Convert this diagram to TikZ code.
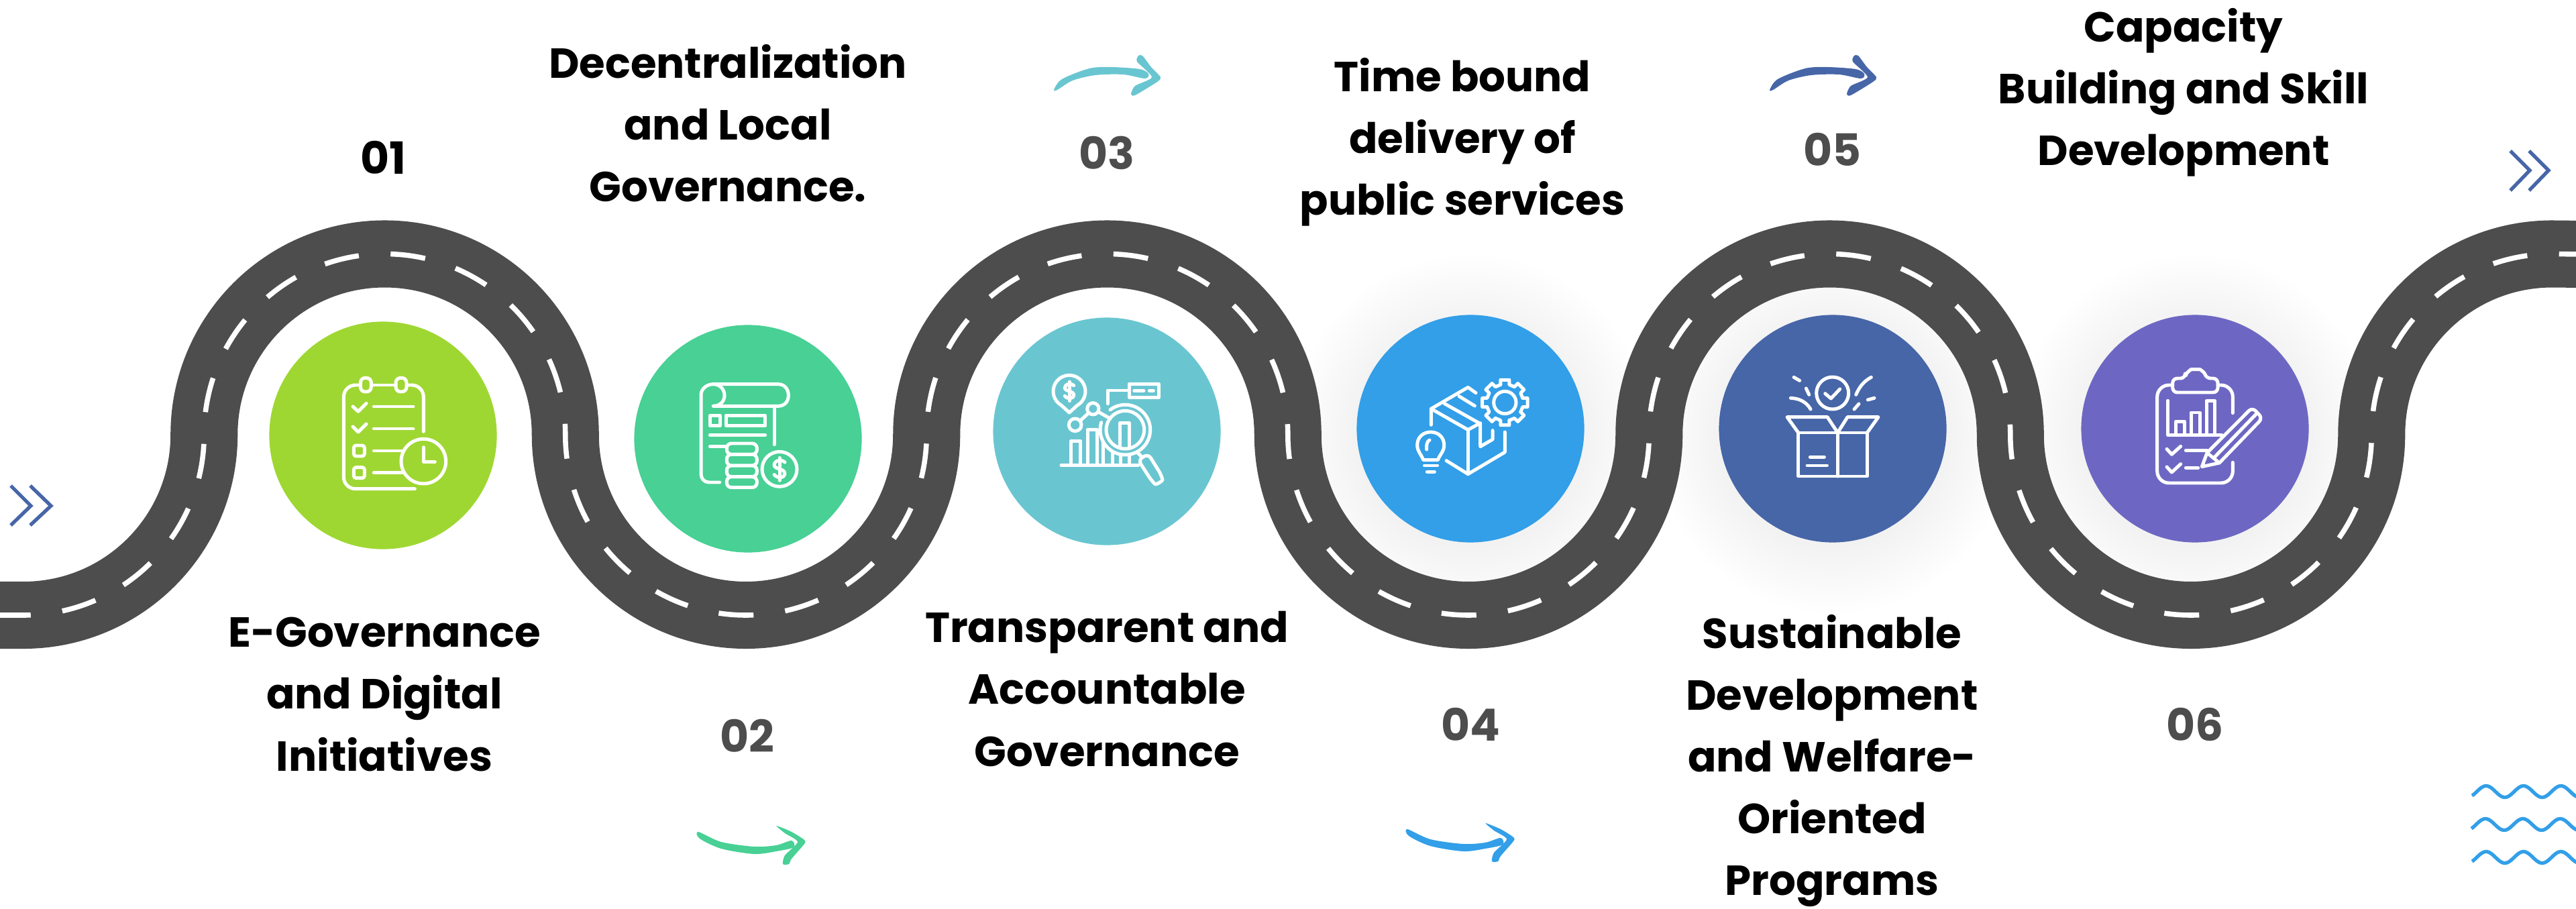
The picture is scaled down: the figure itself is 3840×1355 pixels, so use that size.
\documentclass[tikz,border=0pt]{standalone}
\usepackage{fontspec}
\usetikzlibrary{calc}
\setmainfont{Poppins}
\definecolor{roadc}{HTML}{4D4D4D}
\definecolor{cA}{HTML}{9FD732}
\definecolor{cB}{HTML}{48D095}
\definecolor{cC}{HTML}{69C6D1}
\definecolor{cD}{HTML}{329FE8}
\definecolor{cE}{HTML}{4766A8}
\definecolor{cF}{HTML}{6D67C3}
\tikzset{
  disc/.style={circle,minimum size=3.39cm,inner sep=0pt,outer sep=0pt},
  lab/.style={font=\fontsize{17.8}{26.2}\selectfont\bfseries,align=center,text=black,inner sep=0pt},
  num/.style={font=\fontsize{18.8}{22}\selectfont\bfseries,inner sep=0pt},
  ico/.style={draw=white,line width=1.42pt,line cap=round,line join=round},
  chev/.style={draw=cE,line width=1.5pt},
  wavy/.style={draw=cD,line width=1.5pt,line join=round},
}
\newcommand{\softshadow}[2]{\foreach \r in {170,178,...,266}{\fill[black,fill opacity=.0036] (#1,#2) circle (\r);}}
\newcommand{\roadline}{(-20,917) -- (35,917) arc[start angle=90,end angle=0,radius=269.25]
  arc[start angle=180,end angle=360,radius=269.25]
  arc[start angle=180,end angle=0,radius=269.25]
  arc[start angle=180,end angle=360,radius=269.25]
  arc[start angle=180,end angle=0,radius=269.25]
  arc[start angle=180,end angle=360,radius=269.25]
  arc[start angle=180,end angle=0,radius=269.25]
  arc[start angle=180,end angle=270,radius=269.25] -- (3850,379)}
\newcommand{\lowarrow}[3]{\begin{scope}[shift={(#1,#2)}]
  \fill[#3] plot[smooth cycle,tension=.5] coordinates {(1041,1240) (1075,1255) (1124,1262) (1157,1260) (1180,1253) (1183,1263) (1157,1269) (1124,1273) (1075,1265) (1043,1250)};
  \fill[#3] plot[smooth cycle,tension=.4] coordinates {(1157.5,1231) (1180,1240) (1199,1252) (1199,1258) (1180,1280) (1176,1288) (1167,1288) (1170,1275) (1189,1255) (1170,1242)};
\end{scope}}
\newcommand{\toparrow}[3]{\begin{scope}[shift={(#1,#2)}]
  \fill[#3] plot[smooth cycle,tension=.5] coordinates {(1571,134) (1583,118) (1624,102) (1657,100) (1699,103) (1712,110) (1707,117) (1674,111) (1633,112) (1599,120) (1576,134)};
  \fill[#3] plot[smooth cycle,tension=.4] coordinates {(1697,83) (1703,83) (1716,100) (1730,115) (1725,122) (1692,142) (1686,140) (1692,128) (1717,115) (1695,92)};
\end{scope}}
\newcommand{\dollar}[3]{\begin{scope}[shift={(#1,#2)},scale=#3]
  \draw[ico] (24,-30) .. controls (8,-46) and (-24,-38) .. (-24,-18) .. controls (-24,4) and (24,-4) .. (24,22) .. controls (24,40) and (-8,46) .. (-24,26);
  \draw[ico] (0,-50) -- (0,52);
\end{scope}}
\begin{document}
\begin{tikzpicture}[x=0.01cm,y=-0.01cm]
\path[use as bounding box,clip] (0,0) rectangle (3840,1355);
\softshadow{2192}{647}\softshadow{2732}{647}\softshadow{3272}{647}
% road
\draw[roadc,line width=28.45pt] \roadline;
\draw[white,line width=2.15pt,dash pattern=on 14.8pt off 13.51pt,dash phase=24.4pt] \roadline;
% discs
\node[disc,fill=cA] (c1) at (571,649) {};
\node[disc,fill=cB] (c2) at (1115,654) {};
\node[disc,fill=cC] (c3) at (1650,643) {};
\node[disc,fill=cD] (c4) at (2192,639) {};
\node[disc,fill=cE] (c5) at (2732,639) {};
\node[disc,fill=cF] (c6) at (3272,639) {};
% numbers
\node[num,text=black] (n1) at (571,235) {01};
\node[num,text=roadc] (n2) at (1114,1097) {02};
\node[num,text=roadc] (n3) at (1650,228) {03};
\node[num,text=roadc] (n4) at (2192,1080) {04};
\node[num,text=roadc] (n5) at (2731,223) {05};
\node[num,text=roadc] (n6) at (3272,1080) {06};
% labels
\node[lab] (t1) at (573,1035) {E-Governance\\and Digital\\Initiatives};
\node[lab] (t2) at (1085,184) {Decentralization\\and Local\\Governance.};
\node[lab] (t3) at (1650,1027) {Transparent and\\Accountable\\Governance};
\node[lab] (t4) at (2180,212) {Time bound\\delivery of\\public services};
\node[lab] (t5) at (2731,1134) {Sustainable\\Development\\and Welfare-\\Oriented\\Programs};
\node[lab] (t6) at (3255,138) {Capacity\\Building and Skill\\Development};
% brush arrows
\lowarrow{0}{0}{cB}
\lowarrow{1057}{-4}{cD}
\toparrow{0}{0}{cC}
\toparrow{1067}{0}{cE}
% chevrons
\draw[chev] (16,724) -- (46,754) -- (16,783);
\draw[chev] (45,724) -- (76,754) -- (45,783);
\draw[chev] (3742,225) -- (3771,254) -- (3742,284);
\draw[chev] (3770,225) -- (3799,254) -- (3770,284);
% waves
\foreach \yy/\xs in {1180/0,1229/-1,1278/0}{
  \draw[wavy] plot[domain=-21:139,samples=120,smooth] ({3706+\x+\xs},{\yy-8.5*cos(\x*6.463)});
}
% icon 1
\begin{scope}[shift={(450,500)},scale=1/3]
 \draw[ico,rounded corners=5pt] (505,686) -- (187,686) -- (187,222) -- (262,222);
 \draw[ico] (310,222) -- (420,222);
 \draw[ico,rounded corners=5pt] (468,222) -- (544,222) -- (544,430);
 \draw[ico,rounded corners=2pt] (262,190) rectangle (310,252);
 \draw[ico,rounded corners=2pt] (420,190) rectangle (468,252);
 \draw[ico] (228,318) -- (252,340) -- (288,304);
 \draw[ico] (228,408) -- (252,432) -- (288,396);
 \draw[ico] (322,318) -- (498,318);
 \draw[ico] (322,417) -- (498,417);
 \draw[ico,rounded corners=1pt] (232,492) rectangle (280,540);
 \draw[ico,rounded corners=1pt] (232,590) rectangle (280,638);
 \draw[ico] (322,516) -- (455,516);
 \draw[ico] (322,614) -- (455,614);
 \draw[ico] (544,563) circle (100);
 \draw[ico] (544,500) -- (544,565) -- (595,565);
\end{scope}
% icon 2
\begin{scope}[shift={(1000,500)},scale=1/3]
 \draw[ico] (218,657) -- (170,657) .. controls (150,657) and (135,640) .. (135,620) -- (135,265) .. controls (135,240) and (160,218) .. (190,218) -- (480,218) .. controls (508,218) and (526,240) .. (526,268) .. controls (526,296) and (508,316) .. (480,316) -- (190,316);
 \draw[ico] (190,218) .. controls (218,218) and (240,240) .. (240,268) .. controls (240,296) and (218,316) .. (190,316);
 \draw[ico] (462,316) -- (462,488);
 \draw[ico] (175,358) rectangle (220,404);
 \draw[ico] (247,358) rectangle (422,404);
 \draw[ico] (175,446) -- (422,446);
 \draw[ico] (175,497) -- (250,497);
 \draw[ico,rounded corners=2pt] (250,483) rectangle (385,532);
 \draw[ico,rounded corners=2pt] (250,532) rectangle (385,582);
 \draw[ico,rounded corners=2pt] (250,582) rectangle (385,632);
 \draw[ico,rounded corners=2pt] (250,632) rectangle (385,680);
 \draw[ico] (486,598) circle (78);
\end{scope}
\dollar{1162}{699}{.33}
% icon 3
\begin{scope}[shift={(1520,520)},scale=1/3]
 \draw[ico] (186,520) -- (530,520);
 \draw[ico] (230,520) -- (230,412) -- (272,412) -- (272,520);
 \draw[ico] (303,520) -- (303,362) -- (345,362) -- (345,520);
 \draw[ico] (373,420) -- (373,520);
 \draw[ico] (415,462) -- (415,520);
 \draw[ico] (450,472) -- (450,520);
 \draw[ico] (490,472) -- (490,520);
 \draw[ico] (447,435) -- (447,332) -- (490,332) -- (490,435);
 \draw[ico] (472,362) circle (85);
 \draw[ico] ($(472,362)+(233:112)$) arc[start angle=233,end angle=557,radius=112];
 \draw[ico,rounded corners=2pt] (530,497) -- (575,470) -- (634,565) .. controls (640,590) and (610,610) .. (590,590) -- cycle;
 \draw[ico] (528,465) -- (545,482);
 \draw[ico] (248,340) circle (28);
 \draw[ico] (328,268) circle (26);
 \draw[ico] (270,322) -- (305,290);
 \draw[ico] (352,282) -- (405,312);
 \draw[ico] ($(222,190)+(120:72)$) arc[start angle=120,end angle=420,radius=72] -- (222,285) -- cycle;
 \draw[ico] (490,157) rectangle (622,218);
 \draw[ico] (512,187) -- (555,187);
 \draw[ico] (580,187) -- (598,187);
 \draw[ico] (393,245) -- (393,186) -- (490,186);
\end{scope}
\dollar{1594}{583}{.28}
% icon 4
\begin{scope}[shift={(2050,520)},scale=1/3]
 \draw[ico] (250,340) -- (250,268) -- (415,172) -- (450,197);
 \draw[ico] (250,268) -- (415,362) -- (470,332);
 \draw[ico] (310,245) -- (470,335) -- (470,437) -- (525,405) -- (525,365);
 \draw[ico] (375,212) -- (445,255);
 \draw[ico] (415,362) -- (415,560);
 \draw[ico] (318,500) -- (415,560) -- (580,462) -- (580,372);
 \draw[ico] (580,240) circle (50);
 \foreach \a in {0,45,...,315}{
  \draw[ico] ($(580,240)+(\a-14:82)$) -- ($(580,240)+(\a-11:103)$) -- ($(580,240)+(\a+11:103)$) -- ($(580,240)+(\a+14:82)$) -- ($(580,240)+(\a+31:82)$);
 }
 \draw[ico] (215,497) .. controls (205,470) and (188,460) .. (188,430) .. controls (188,395) and (215,372) .. (248,372) .. controls (281,372) and (308,395) .. (308,430) .. controls (308,460) and (290,470) .. (280,497) -- cycle;
 \draw[ico] (220,522) -- (278,522);
 \draw[ico] (232,550) -- (265,550);
 \draw[ico] (230,450) .. controls (228,430) and (232,412) .. (243,408);
\end{scope}
% icon 5
\begin{scope}[shift={(2590,520)},scale=1/3]
 \draw[ico] (425,198) circle (72);
 \draw[ico] (392,200) -- (418,222) -- (458,180);
 \draw[ico] (252,127) -- (278,142);
 \draw[ico] (307,177) -- (320,205);
 \draw[ico] (238,220) .. controls (280,222) and (310,240) .. (327,270);
 \draw[ico] (530,205) .. controls (545,170) and (565,145) .. (598,127);
 \draw[ico] (583,228) -- (612,220);
 \draw[ico] (522,270) -- (543,246);
 \draw[ico] (272,375) rectangle (580,570);
 \draw[ico] (448,375) -- (448,570);
 \draw[ico] (325,484) -- (388,484);
 \draw[ico] (312,522) -- (400,522);
 \draw[ico] (272,375) -- (222,305) -- (402,305) -- (448,375) -- (492,305) -- (630,305) -- (580,375);
\end{scope}
% icon 6
\begin{scope}[shift={(3120,520)},scale=1/3]
 \draw[ico,rounded corners=5pt] (625,287) -- (625,162) -- (558,162);
 \draw[ico,rounded corners=5pt] (356,162) -- (287,162) -- (287,600) -- (625,600) -- (625,508);
 \draw[ico,rounded corners=2pt] (412,132) -- (356,132) -- (356,195) -- (558,195) -- (558,132) -- (505,132) .. controls (498,105) and (478,92) .. (458,92) .. controls (440,92) and (420,105) .. (412,132) -- cycle;
 \draw[ico] (335,232) -- (335,385) -- (575,385);
 \draw[ico] (370,385) -- (370,325) -- (410,325) -- (410,385);
 \draw[ico] (438,385) -- (438,285) -- (478,285) -- (478,385);
 \draw[ico] (507,385) -- (507,232) -- (545,232) -- (545,385);
 \draw[ico] (330,448) -- (352,472) -- (392,436);
 \draw[ico] (330,528) -- (352,552) -- (392,515);
 \draw[ico] (415,454) -- (510,454);
 \draw[ico] (415,532) -- (470,532);
 \draw[ico,rounded corners=2pt] (510,465) -- (712,262) -- (758,310) -- (565,510);
 \draw[ico] (487,527) -- (510,465) -- (565,510) -- cycle;
 \draw[ico] (540,488) -- (733,288);
\end{scope}
\end{tikzpicture}
\end{document}
